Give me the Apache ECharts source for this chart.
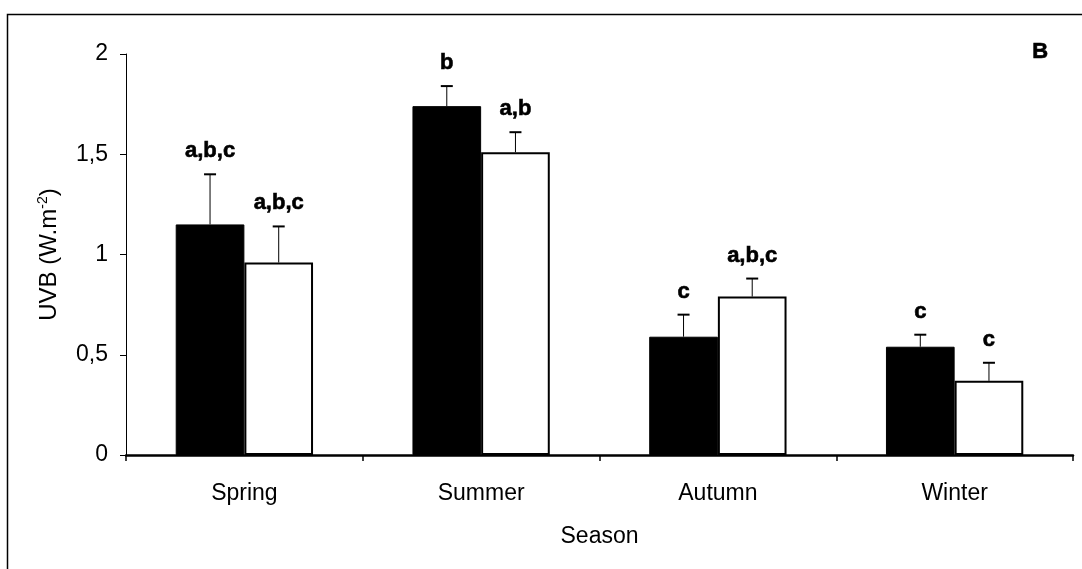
<!DOCTYPE html>
<html>
<head>
<meta charset="utf-8">
<script src="https://cdn.jsdelivr.net/npm/echarts@6/dist/echarts.min.js"></script>
<style>
  html, body { margin: 0; padding: 0; background: #fff; }
  #chart { width: 1082px; height: 569px; }
</style>
</head>
<body>
<div id="chart"></div>
<script>
// Seasonal UVB irradiance, two groups (filled / open bars), mean + SE
const seasons = ['Spring', 'Summer', 'Autumn', 'Winter'];
const filledMeans = [1.15, 1.74, 0.59, 0.54];
const filledErrors = [0.25, 0.10, 0.11, 0.06];
const filledLetters = ['a,b,c', 'b', 'c', 'c'];
const openMeans = [0.96, 1.51, 0.79, 0.37];
const openErrors = [0.18, 0.10, 0.09, 0.09];
const openLetters = ['a,b,c', 'a,b', 'a,b,c', 'c'];
const yTicks = [0, 0.5, 1, 1.5, 2];

const FONT = '"Liberation Sans", Arial, sans-serif';
const CAT_GAP = 0.42;

function errorSeries(means, errors, letters, side) {
  return {
    type: 'custom',
    z: 5,
    data: means.map((m, i) => [i, m, errors[i], letters[i]]),
    renderItem: function (params, api) {
      const i = api.value(0);
      const mean = api.value(1);
      const err = api.value(2);
      const letter = letters[i];
      const band = api.size([1, 0])[0];
      const barW = band * (1 - CAT_GAP) / 2;
      const base = api.coord([i, mean]);
      const top = api.coord([i, mean + err]);
      const x = base[0] + side * barW / 2;
      const cap = 6;
      return {
        type: 'group',
        children: [
          { type: 'line', shape: { x1: x, y1: base[1], x2: x, y2: top[1] },
            style: { stroke: '#000', lineWidth: 1 } },
          { type: 'line', shape: { x1: x - cap, y1: top[1], x2: x + cap, y2: top[1] },
            style: { stroke: '#000', lineWidth: 2 } },
          { type: 'text', x: x, y: top[1] - 12,
            style: { text: letter, font: 'bold 22px ' + FONT, fill: '#000',
                     stroke: '#000', lineWidth: 0.6,
                     textAlign: 'center', textVerticalAlign: 'bottom' } }
        ]
      };
    }
  };
}

const chart = echarts.init(document.getElementById('chart'), null, { renderer: 'canvas' });
chart.setOption({
  animation: false,
  backgroundColor: '#fff',
  grid: { left: 126, right: 9, top: 54, bottom: 114, containLabel: false },
  graphic: [
    { type: 'polyline', z: 0,
      shape: { points: [[7.5, 600], [7.5, 14.5], [1100, 14.5]] },
      style: { stroke: '#000', lineWidth: 1.5, fill: null } },
    { type: 'text', left: 1032, top: 41, z: 10,
      style: { text: 'B', font: 'bold 22px ' + FONT, fill: '#000', stroke: '#000', lineWidth: 0.6 } }
  ],
  xAxis: {
    type: 'category',
    data: seasons,
    name: 'Season',
    nameLocation: 'middle',
    nameGap: 70,
    nameTextStyle: { fontFamily: FONT, fontSize: 23, color: '#000' },
    axisLine: { lineStyle: { color: '#000', width: 2.5 } },
    axisTick: { show: true, length: 6, lineStyle: { color: '#000', width: 1.5 } },
    axisLabel: { fontFamily: FONT, fontSize: 23, color: '#000', margin: 27 }
  },
  yAxis: {
    type: 'value',
    min: yTicks[0],
    max: yTicks[yTicks.length - 1],
    interval: 0.5,
    name: '{n|UVB (W.m}{s|-2}{n|)}',
    nameLocation: 'middle',
    nameGap: 64,
    nameRotate: 90,
    nameTextStyle: {
      rich: {
        n: { fontFamily: FONT, fontSize: 24, color: '#000' },
        s: { fontFamily: FONT, fontSize: 14, color: '#000', padding: [0, 0, 12, 0] }
      }
    },
    splitLine: { show: false },
    axisLine: { show: true, lineStyle: { color: '#000', width: 1 } },
    axisTick: { show: true, inside: false, length: 6, lineStyle: { color: '#000', width: 1 } },
    axisLabel: {
      fontFamily: FONT, fontSize: 23, color: '#000', margin: 18,
      formatter: v => String(v).replace('.', ',')
    }
  },
  series: [
    { type: 'bar', data: filledMeans, barGap: '0%', barCategoryGap: (CAT_GAP * 100) + '%',
      itemStyle: { color: '#000', borderColor: '#000', borderWidth: 1 }, z: 2 },
    { type: 'bar', data: openMeans, barGap: '0%', barCategoryGap: (CAT_GAP * 100) + '%',
      itemStyle: { color: '#fff', borderColor: '#000', borderWidth: 2 }, z: 2 },
    errorSeries(filledMeans, filledErrors, filledLetters, -1),
    errorSeries(openMeans, openErrors, openLetters, 1)
  ]
});
</script>
</body>
</html>
